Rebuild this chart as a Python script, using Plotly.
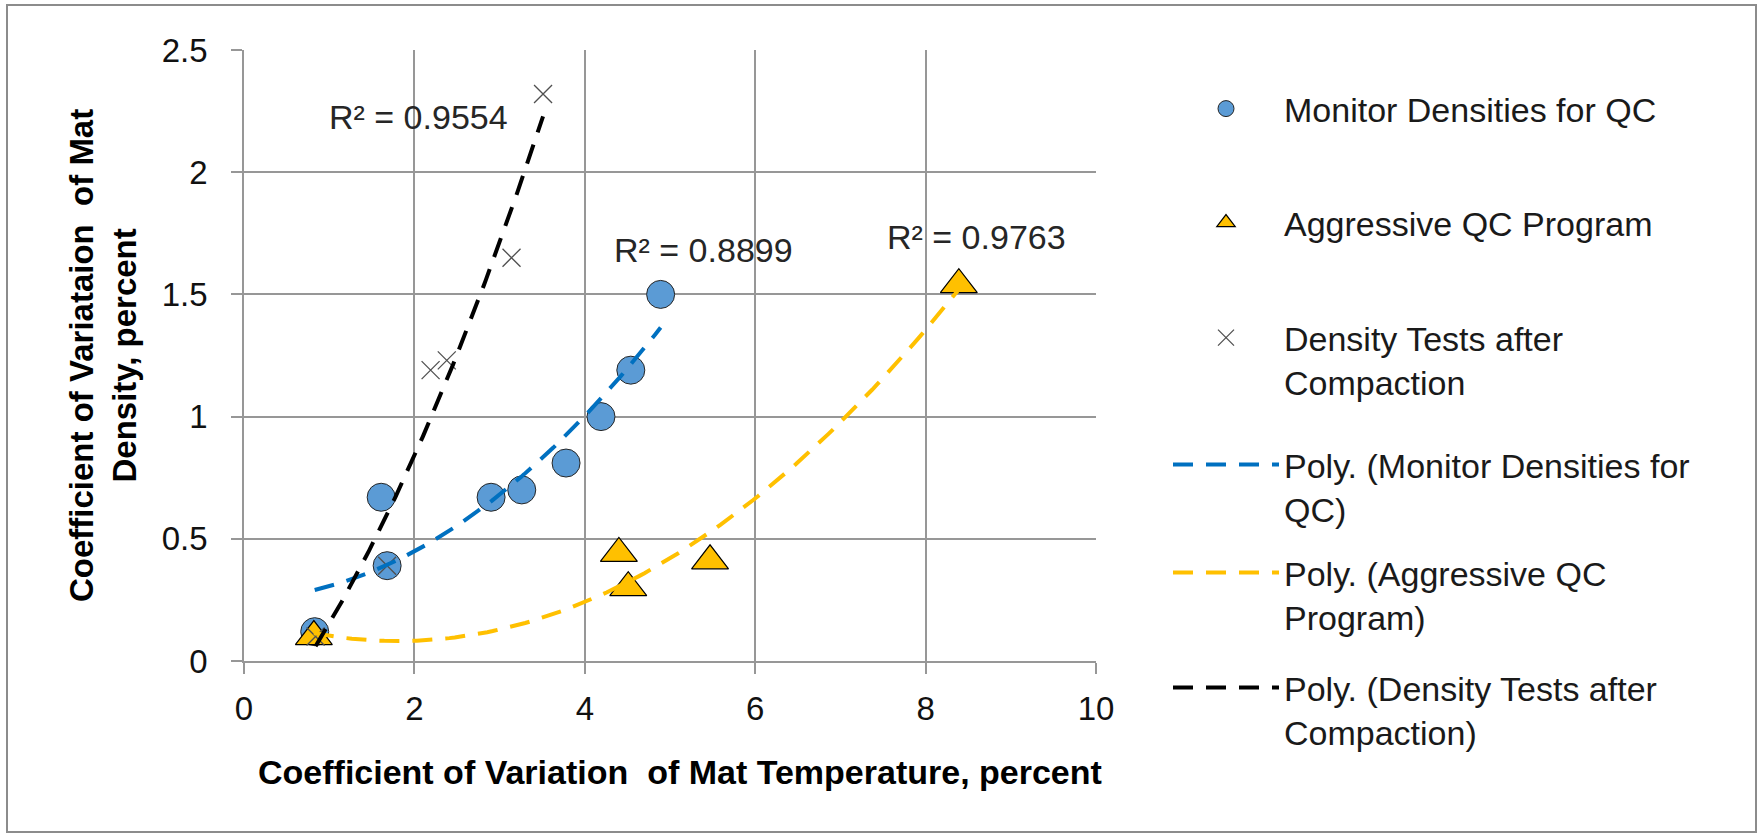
import numpy as np
import plotly.graph_objects as go

# ---------------- data ----------------
monitor_x = [0.83, 1.61, 1.68, 2.90, 3.26, 3.78, 4.19, 4.54, 4.89]
monitor_y = [0.12, 0.67, 0.39, 0.67, 0.70, 0.81, 1.00, 1.19, 1.50]

aggressive_x = [0.82, 4.40, 4.51, 5.47, 8.39]
aggressive_y = [0.10, 0.44, 0.30, 0.41, 1.54]

density_x = [0.84, 1.68, 2.19, 2.38, 3.14, 3.51]
density_y = [0.10, 0.39, 1.19, 1.23, 1.65, 2.32]

series_names = ["Monitor Densities for QC", "Aggressive QC Program",
                "Density Tests after<br>Compaction"]
trend_names = ["Poly. (Monitor Densities for<br>QC)",
               "Poly. (Aggressive QC<br>Program)",
               "Poly. (Density Tests after<br>Compaction)"]
r2_labels = ["R² = 0.8899", "R² = 0.9763", "R² = 0.9554"]

x_title = "Coefficient of Variation  of Mat Temperature, percent"
y_title = "Coefficient of Variataion  of Mat<br>Density, percent"

# ---------------- helpers ----------------
FONT = "Liberation Sans, Arial, sans-serif"
W, H = 1760, 835
L, R, T, B = 244, 664, 50, 174
PW, PH = W - L - R, H - T - B


def px(xp):
    return (xp - L) / PW


def py(yp):
    return (H - B - yp) / PH


def trend(xs, ys):
    c = np.polyfit(xs, ys, 2)
    xx = np.linspace(min(xs), max(xs), 120)
    return xx, np.polyval(c, xx)


fig = go.Figure()

fig.add_trace(go.Scatter(
    x=monitor_x, y=monitor_y, mode="markers", name=series_names[0],
    marker=dict(symbol="circle", size=28, color="#5B9BD5",
                line=dict(color="#262626", width=1)),
    legend="legend"))
fig.add_trace(go.Scatter(
    x=aggressive_x, y=aggressive_y, mode="markers", name=series_names[1],
    marker=dict(symbol="triangle-up", size=32, color="#FFC000",
                line=dict(color="#000000", width=1.2)),
    legend="legend2"))
fig.add_trace(go.Scatter(
    x=density_x, y=density_y, mode="markers", name=series_names[2],
    marker=dict(symbol="x-thin", size=18, color="#505050",
                line=dict(color="#505050", width=1.3)),
    legend="legend3"))

trend_colors = ["#0070C0", "#FFC000", "#000000"]
for i, (xs, ys) in enumerate([(monitor_x, monitor_y),
                              (aggressive_x, aggressive_y),
                              (density_x, density_y)]):
    xx, yy = trend(xs, ys)
    fig.add_trace(go.Scatter(
        x=xx, y=yy, mode="lines", name=trend_names[i],
        line=dict(color=trend_colors[i], width=4, dash="20px,13px"),
        legend="legend%d" % (i + 4)))

# ---------------- legends ----------------
item_centers = [106, 220, 335, 462, 570, 685]
legend_x = px(1168)
leg_common = dict(font=dict(family=FONT, size=34, color="#1a1a1a"),
                  bgcolor="rgba(0,0,0,0)", borderwidth=0,
                  xanchor="left", yanchor="top", itemwidth=106,
                  valign="top", tracegroupgap=0)
legend_layout = {}
for k, yc in enumerate(item_centers):
    key = "legend" if k == 0 else "legend%d" % (k + 1)
    legend_layout[key] = dict(x=legend_x, y=py(yc - 26), **leg_common)

# ---------------- annotations ----------------
ann_font = dict(family=FONT, size=34, color="#262626")
annotations = [
    dict(x=5.39, y=1.68, xref="x", yref="y", text=r2_labels[0],
         showarrow=False, font=ann_font),
    dict(x=8.60, y=1.733, xref="x", yref="y", text=r2_labels[1],
         showarrow=False, font=ann_font),
    dict(x=2.05, y=2.226, xref="x", yref="y", text=r2_labels[2],
         showarrow=False, font=ann_font),
    dict(x=px(680), y=py(772), xref="paper", yref="paper", text="<b>" + x_title + "</b>",
         showarrow=False, font=dict(family=FONT, size=34, color="#000000"),
         xanchor="center", yanchor="middle"),
    dict(x=px(103), y=py(356), xref="paper", yref="paper", text="<b>" + y_title + "</b>",
         showarrow=False, textangle=-90, align="center",
         font=dict(family=FONT, size=33, color="#000000"),
         xanchor="center", yanchor="middle"),
]

grid_col = "#979797"
axis_common = dict(showgrid=True, gridcolor=grid_col, gridwidth=1.5,
                   showline=True, linecolor=grid_col, linewidth=1.5,
                   ticks="outside", ticklen=11, tickcolor=grid_col, tickwidth=1.5,
                   zeroline=False,
                   tickfont=dict(family=FONT, size=33, color="#111111"))

fig.update_layout(
    width=W, height=H,
    margin=dict(l=L, r=R, t=T, b=B, autoexpand=False),
    paper_bgcolor="white", plot_bgcolor="white",
    showlegend=True,
    xaxis=dict(range=[0, 10], dtick=2, tick0=0, ticklabelstandoff=7, **axis_common),
    yaxis=dict(range=[0, 2.5], dtick=0.5, tick0=0, ticklabelstandoff=17, **axis_common),
    annotations=annotations,
    shapes=[dict(type="rect", xref="paper", yref="paper",
                 x0=px(7), x1=px(1756), y0=py(832), y1=py(5),
                 line=dict(color="#8c8c8c", width=2), layer="below")],
    **legend_layout,
)

fig.write_html("out.html",
               config={"displayModeBar": False},
               post_script="document.body.style.margin='0';"
                           "document.body.style.overflow='hidden';")
